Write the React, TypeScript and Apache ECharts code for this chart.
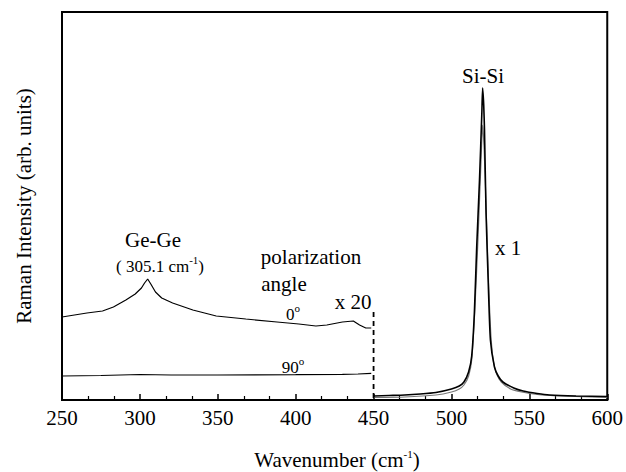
import React, { useEffect, useRef } from "react";
import * as echarts from "echarts";

// 0° polarization spectrum (x20), 250-450 cm-1
const wave0 = [250, 258, 266, 276, 283, 291, 297, 301, 303, 305, 307, 310, 314, 321, 334, 349, 368, 388, 402, 413, 420, 430, 437, 441, 445, 448.5];
const int0 = [83, 85, 87, 89, 93, 100, 106, 112, 117, 121, 116, 108, 102, 97, 90, 84, 81, 78, 76, 74, 75, 78, 79, 75, 72, 72];

// 90° polarization spectrum (x20)
const wave90 = [250, 275, 300, 320, 350, 400, 430, 440, 448.5];
const int90 = [24, 24.5, 25.5, 25, 25, 25.3, 25.7, 26, 26.7];

// Si-Si peak (x1), two overlapping spectra
const siWaveA = [450, 460, 470, 480, 490, 500, 505, 508, 511, 513, 514.7, 516.2, 518, 519.5, 520, 520.7, 521.2, 522.2, 523.7, 525, 527.6, 530, 533, 540, 546, 555, 563, 580, 600];
const siIntA = [4, 4.5, 5, 6, 7.5, 11, 14, 18, 28, 44, 87, 153, 220, 287, 312, 295, 270, 187, 113, 60, 33, 24, 18, 12, 9, 6.5, 5, 4, 3.5];
const siWaveB = [450, 470, 490, 500, 505, 508, 511, 513, 515, 517, 519, 520, 521, 522.5, 524, 525.5, 527, 529, 532, 538, 545, 555, 570, 600];
const siIntB = [2.5, 3, 5, 8, 11, 15, 24, 40, 90, 160, 240, 275, 250, 180, 110, 60, 38, 26, 18, 11, 8, 5.5, 4, 2.5];

// dashed separator at 450 cm-1
const dashWave = [450, 450];
const dashInt = [88, 0];

const xMin = 250;
const xMax = 600;
const xStep = 50;
const yMax = 388;

const FONT = "Times New Roman, Liberation Serif, serif";

const zip = (xs: number[], ys: number[]) => xs.map((x, i) => [x, ys[i]]);

export default function App() {
  const ref = useRef<HTMLDivElement>(null);
  useEffect(() => {
    if (!ref.current) return;
    const chart = echarts.init(ref.current, undefined, { renderer: "svg" });
    const txt = (text: string, x: number, y: number, size: number, extra: any = {}) => ({
      type: "text",
      x,
      y,
      ...extra,
      style: {
        text,
        fontSize: size,
        fontFamily: FONT,
        fill: "#000",
        align: "center",
        verticalAlign: "middle",
        rich: {
          n: { fontSize: size, fontFamily: FONT, fill: "#000", color: "#000" },
          sup: { fontSize: 11, fontFamily: FONT, fill: "#000", color: "#000", padding: [0, 0, 12, 0] },
        },
      },
    });
    chart.setOption({
      animation: false,
      backgroundColor: "#fff",
      textStyle: { fontFamily: FONT },
      grid: { left: 62, right: 18, top: 12, bottom: 72, show: true, borderColor: "#000", borderWidth: 2 },
      xAxis: {
        type: "value",
        min: xMin,
        max: xMax,
        interval: xStep,
        axisLine: { show: true, onZero: false, lineStyle: { color: "#000", width: 2 } },
        axisTick: { show: true, inside: true, length: 6, lineStyle: { color: "#000", width: 1.5 } },
        minorTick: { show: true, splitNumber: 3, length: 4, lineStyle: { color: "#000", width: 1.2 } },
        axisLabel: { fontFamily: FONT, fontSize: 21, color: "#000", margin: 7, showMinLabel: true, showMaxLabel: true },
        splitLine: { show: false },
      },
      yAxis: {
        type: "value",
        min: 0,
        max: yMax,
        axisLine: { show: true, lineStyle: { color: "#000", width: 2 } },
        axisTick: { show: false },
        axisLabel: { show: false },
        splitLine: { show: false },
      },
      series: [
        { type: "line", data: zip(wave0, int0), showSymbol: false, lineStyle: { color: "#000", width: 1.2 } },
        { type: "line", data: zip(wave90, int90), showSymbol: false, lineStyle: { color: "#000", width: 1.2 } },
        { type: "line", data: zip(siWaveB, siIntB), showSymbol: false, lineStyle: { color: "#777", width: 1.2 }, smooth: 0.2 },
        { type: "line", data: zip(siWaveA, siIntA), showSymbol: false, lineStyle: { color: "#000", width: 1.6 }, smooth: 0.2 },
        { type: "line", data: zip(dashWave, dashInt), showSymbol: false, lineStyle: { color: "#000", width: 1.8, type: [5, 4] } },
      ],
      graphic: [
        txt("{n|Ge-Ge}", 153, 240, 21),
        txt("{n|( 305.1 cm}{sup|-1}{n|)}", 160, 266, 17),
        txt("{n|polarization}", 311, 257, 21),
        txt("{n|angle}", 284, 284, 21),
        txt("{n|x 20}", 353, 302, 21),
        txt("{n|0}{sup|o}", 293, 314, 17),
        txt("{n|90}{sup|o}", 293, 367, 17),
        txt("{n|Si-Si}", 483, 76, 21),
        txt("{n|x 1}", 508, 248, 21),
        txt("{n|Wavenumber (cm}{sup|-1}{n|)}", 337, 460, 21),
        txt("{n|Raman Intensity (arb. units)}", 24, 206, 21, { rotation: Math.PI / 2 }),
      ],
    });
    return () => chart.dispose();
  }, []);
  return <div ref={ref} style={{ width: 626, height: 472, position: "absolute", left: 0, top: 0 }} />;
}
